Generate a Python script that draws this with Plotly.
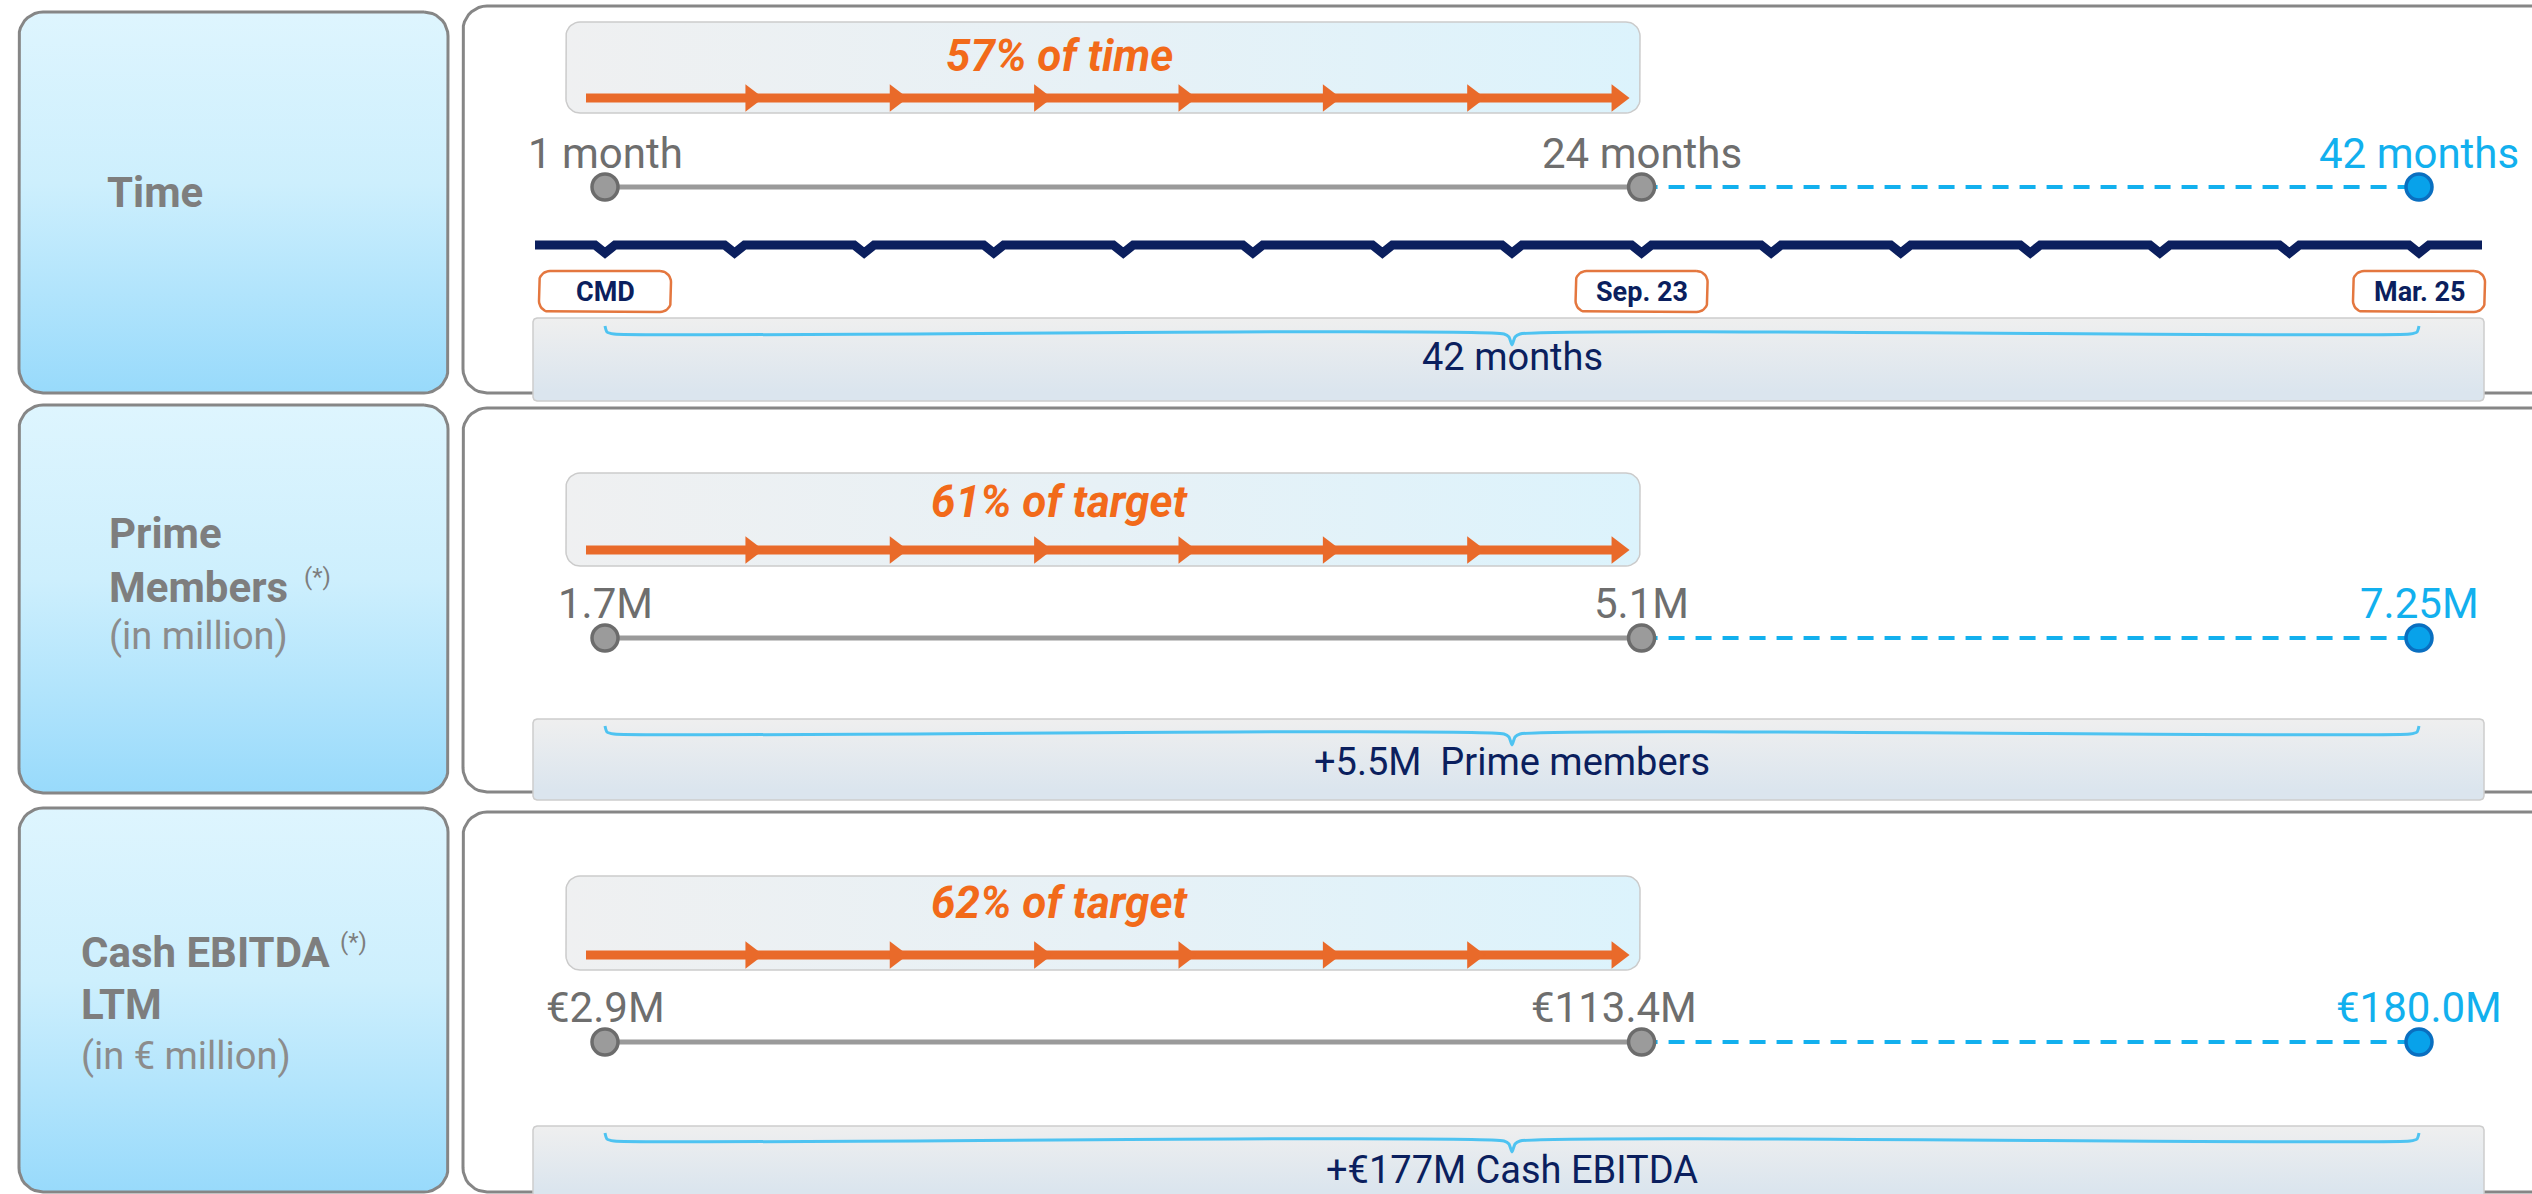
import numpy as np
import plotly.graph_objects as go

# ---------------- data ----------------
milestone_months = [0, 24, 42]
milestone_dates = ["CMD", "Sep. 23", "Mar. 25"]
notch_months = list(range(0, 43, 3))
time_labels = ["1 month", "24 months", "42 months"]
prime_values = [1.7, 5.1, 7.25]
prime_labels = ["1.7M", "5.1M", "7.25M"]
ebitda_values = [2.9, 113.4, 180.0]
ebitda_labels = ["€2.9M", "€113.4M", "€180.0M"]
brace_labels = ["42 months", "+5.5M  Prime members", "+€177M Cash EBITDA"]
row_titles = [["Time"], ["Prime", "Members"], ["Cash EBITDA", "LTM"]]
row_units = ["", "(in million)", "(in € million)"]
row_notes = ["", "(*)", "(*)"]

pct_time = round(100 * (milestone_months[1] - milestone_months[0]) / (milestone_months[2] - milestone_months[0]))
pct_prime = round(100 * (prime_values[1] - prime_values[0]) / (prime_values[2] - prime_values[0]))
pct_ebitda = round(100 * (ebitda_values[1] - ebitda_values[0]) / (ebitda_values[2] - ebitda_values[0]))
progress_labels = [f"{pct_time}% of time", f"{pct_prime}% of target", f"{pct_ebitda}% of target"]
value_labels = [time_labels, prime_labels, ebitda_labels]

# ---------------- style ----------------
W, H = 2532, 1194
FONT = "Roboto"
M0_PX = 605
PPM = (2419 - 605) / 42.0  # pixels per month on the time axis


def dm(p):
    """pixel length -> months"""
    return p / PPM


def P(px):
    """page pixel column -> axis value (for decorative frames only)"""
    return (px - M0_PX) / PPM


ORANGE = "#e96a2a"
ORANGE_TXT = "#f26a1a"
NAVY = "#0b1f5e"
BLUE = "#12b0ee"
BLUE_DOT = "#08a2ea"
BLUE_DOT_LINE = "#0a6fc0"
GRAY_TXT = "#6e6e6e"
TITLE_GRAY = "#7e7e7e"
UNIT_GRAY = "#8c8c8c"
PANEL_LINE = "#868686"
BRACE = "#4ec3f1"

rows = [
    dict(left=(12, 393), panel=(6, 393), box=(22, 113), pct_y=56, arrow_y=98,
         label_y=153, dot_y=187, bottom=(318, 391), brace_y=334, brace_txt_y=357,
         titles=[(105, 192)], note=None, unit=None),
    dict(left=(405, 793), panel=(408, 792), box=(473, 566), pct_y=502, arrow_y=550,
         label_y=603, dot_y=638, bottom=(719, 790), brace_y=734, brace_txt_y=762,
         titles=[(107, 533), (107, 587)], note=(302, 577), unit=(107, 636)),
    dict(left=(808, 1192), panel=(812, 1192), box=(876, 970), pct_y=903, arrow_y=955,
         label_y=1007, dot_y=1042, bottom=(1126, 1190), brace_y=1141, brace_txt_y=1170,
         titles=[(79, 952), (79, 1004)], note=(338, 942), unit=(79, 1056)),
]

fig = go.Figure()


def rr(x0, y0, x1, y1, rx, ry, n=10):
    pts = []
    corners = [(x1 - rx, y0 + ry, -90, 0), (x1 - rx, y1 - ry, 0, 90),
               (x0 + rx, y1 - ry, 90, 180), (x0 + rx, y0 + ry, 180, 270)]
    for cx, cy, a0, a1 in corners:
        for a in np.linspace(a0, a1, n):
            t = np.radians(a)
            pts.append((cx + rx * np.cos(t), cy + ry * np.sin(t)))
    pts.append(pts[0])
    xs, ys = zip(*pts)
    return list(xs), list(ys)


def frame(px0, y0, px1, y1, r):
    return rr(P(px0), y0, P(px1), y1, dm(r), r)


def add_poly(xs, ys, line_color="rgba(0,0,0,0)", line_width=0, fill=None, grad=None):
    kw = dict(x=xs, y=ys, mode="lines",
              line=dict(color=line_color, width=line_width),
              hoverinfo="skip", showlegend=False)
    if grad is not None:
        kw.update(fill="toself", fillgradient=grad)
    elif fill is not None:
        kw.update(fill="toself", fillcolor=fill)
    fig.add_trace(go.Scatter(**kw))


annotations = []


def text(x, y, s, size, color, xanchor="center", bold=False, italic=False):
    if italic:
        s = f"<i>{s}</i>"
    if bold:
        s = f"<b>{s}</b>"
    annotations.append(dict(x=x, y=y, xref="x", yref="y", text=s, showarrow=False,
                            xanchor=xanchor, yanchor="middle",
                            font=dict(family=FONT, size=size, color=color)))


m_start, m_now, m_end = milestone_months
m_mid = (m_start + m_end) / 2.0

for i, r in enumerate(rows):
    # ---- left category panel ----
    y0, y1 = r["left"]
    xs, ys = frame(19, y0, 448, y1, 24)
    add_poly(xs, ys, line_color=PANEL_LINE, line_width=3,
             grad=dict(type="vertical", start=y0, stop=y1,
                       colorscale=[[0, "#def5fe"], [0.45, "#cdeffd"], [1, "#98dafb"]]))
    for (tx, ty), t in zip(r["titles"], row_titles[i]):
        text(P(tx), ty, t, 42, TITLE_GRAY, xanchor="left", bold=True)
    if r["note"]:
        text(P(r["note"][0]), r["note"][1], row_notes[i], 24, TITLE_GRAY, xanchor="left")
    if r["unit"]:
        text(P(r["unit"][0]), r["unit"][1], row_units[i], 38, UNIT_GRAY, xanchor="left")

    # ---- right panel ----
    p0, p1 = r["panel"]
    xs, ys = frame(463, p0, 2575, p1, 24)
    add_poly(xs, ys, line_color=PANEL_LINE, line_width=3, fill="white")

    # ---- progress box ----
    b0, b1 = r["box"]
    xs, ys = frame(566, b0, 1640, b1, 14)
    add_poly(xs, ys, line_color="#cbcbcb", line_width=1.5,
             grad=dict(type="horizontal", start=P(566), stop=P(1640),
                       colorscale=[[0, "#eff0f1"], [0.5, "#e7f1f6"], [1, "#dcf3fc"]]))

    # ---- bottom box ----
    c0, c1 = r["bottom"]
    xs, ys = frame(533, c0, 2484, c1 + 10, 4)
    add_poly(xs, ys, line_color="#cdcdcd", line_width=1.5,
             grad=dict(type="vertical", start=c0, stop=c1,
                       colorscale=[[0, "#efefef"], [1, "#dbe5ee"]]))

    # ---- progress arrow ----
    ay = r["arrow_y"]
    a_start = m_start - dm(19)
    a_tip = m_now - dm(12)
    tri_r = 12
    fig.add_trace(go.Scatter(x=[a_start, a_tip - dm(tri_r)], y=[ay, ay], mode="lines",
                             line=dict(color=ORANGE, width=9), hoverinfo="skip", showlegend=False))
    L = a_tip - a_start
    tips = np.linspace(a_start + 0.17 * L, a_tip, 7)
    fig.add_trace(go.Scatter(x=list(tips - dm(tri_r)), y=[ay] * 7, mode="markers",
                             marker=dict(symbol="triangle-right", size=2 * tri_r, color=ORANGE,
                                         line=dict(width=0)),
                             hoverinfo="skip", showlegend=False))
    text(P(1059), r["pct_y"], progress_labels[i], 44, ORANGE_TXT, bold=True, italic=True)

    # ---- milestone line ----
    dy = r["dot_y"]
    fig.add_trace(go.Scatter(x=[m_start, m_now], y=[dy, dy], mode="lines",
                             line=dict(color="#9a9a9a", width=5), hoverinfo="skip", showlegend=False))
    fig.add_trace(go.Scatter(x=[m_now, m_end], y=[dy, dy], mode="lines",
                             line=dict(color=BLUE, width=4, dash="16px,11px"),
                             hoverinfo="skip", showlegend=False))
    fig.add_trace(go.Scatter(x=[m_start, m_now], y=[dy, dy], mode="markers",
                             marker=dict(size=26, color="#9b9b9b", line=dict(color="#6c6c6c", width=3.5)),
                             hoverinfo="skip", showlegend=False))
    fig.add_trace(go.Scatter(x=[m_end], y=[dy], mode="markers",
                             marker=dict(size=26, color=BLUE_DOT, line=dict(color=BLUE_DOT_LINE, width=3.5)),
                             hoverinfo="skip", showlegend=False))
    labs = value_labels[i]
    shifts = [0, -28, 0] if i == 2 else [0, 0, 0]
    for m, lab, sh, col in zip(milestone_months, labs, shifts, [GRAY_TXT, GRAY_TXT, BLUE]):
        text(m + dm(sh), r["label_y"], lab, 42, col)

    # ---- brace ----
    by = r["brace_y"]
    bx = [m_start, m_start + dm(2), m_start + dm(9), m_mid - dm(8), m_mid - dm(3), m_mid,
          m_mid + dm(3), m_mid + dm(8), m_end - dm(9), m_end - dm(2), m_end]
    byy = [by - 8, by - 2, by, by, by + 3, by + 11, by + 3, by, by, by - 2, by - 8]
    fig.add_trace(go.Scatter(x=bx, y=byy, mode="lines",
                             line=dict(color=BRACE, width=3, shape="spline", smoothing=0.6),
                             hoverinfo="skip", showlegend=False))
    text(m_mid, r["brace_txt_y"], brace_labels[i], 38, NAVY)

# ---- navy time line with quarterly notches (row 1 only) ----
ny = 245
nx = [m_start - dm(70)]
nyy = [ny]
for m in notch_months:
    nx += [m - dm(10), m, m + dm(10)]
    nyy += [ny, ny + 8, ny]
nx.append(m_end + dm(63))
nyy.append(ny)
fig.add_trace(go.Scatter(x=nx, y=nyy, mode="lines", line=dict(color=NAVY, width=9),
                         hoverinfo="skip", showlegend=False))

# ---- date tags ----
for m, lab in zip(milestone_months, milestone_dates):
    xs, ys = rr(m - dm(66), 271, m + dm(66), 312, dm(11), 11)
    add_poly(xs, ys, line_color="#e4773f", line_width=2.5, fill="white")
    text(m, 292, lab, 27, NAVY, bold=True)

fig.update_layout(
    width=W, height=H,
    margin=dict(l=0, r=0, t=0, b=0),
    paper_bgcolor="white", plot_bgcolor="white",
    xaxis=dict(range=[P(0), P(W)], visible=False, fixedrange=True),
    yaxis=dict(range=[H, 0], visible=False, fixedrange=True),
    annotations=annotations,
    showlegend=False,
)

fig.write_html("out.html", config={"displayModeBar": False},
               post_script="document.body.style.margin='0';document.body.style.overflow='hidden';")
